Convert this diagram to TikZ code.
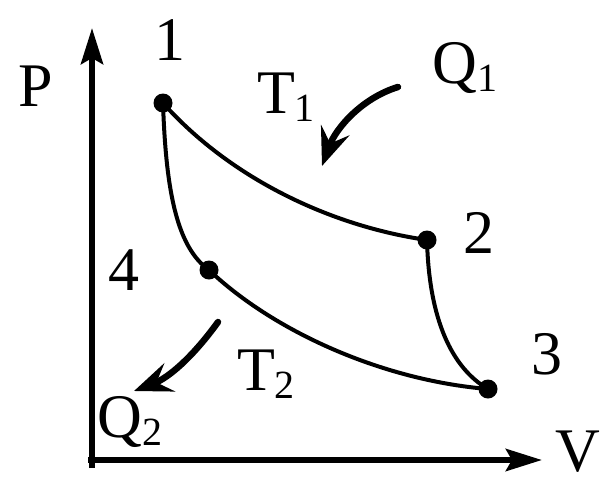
\documentclass[tikz,border=0pt]{standalone}
\usepackage{fontspec}
\setmainfont{Liberation Serif}
\usetikzlibrary{arrows.meta}
\newcommand{\lbsub}[1]{\raisebox{-0.28ex}{\fontsize{40}{40}\selectfont #1}}
\begin{document}
\begin{tikzpicture}[x=1pt,y=-1pt,
  lbl/.style={font=\fontsize{62}{62}\selectfont, inner sep=0pt},
  dotpt/.style={circle, fill=black, minimum size=19pt, inner sep=0pt},
  axis/.style={line width=6pt, -{Stealth[length=36pt,width=22pt,inset=6pt]}},
  cyc/.style={line width=4pt},
  heat/.style={line width=6.5pt, line cap=round, -{Stealth[length=38pt,width=30pt,inset=14pt]}}]
\useasboundingbox (0,0) rectangle (607,485);
% axes
\coordinate (O1) at (92,468);
\coordinate (Ptip) at (92,28);
\coordinate (O2) at (88,460);
\coordinate (Vtip) at (542,460);
\draw[axis] (O1) -- (Ptip);
\draw[axis] (O2) -- (Vtip);
% points
\node[dotpt] (p1) at (163,103) {};
\node[dotpt] (p2) at (427,240) {};
\node[dotpt] (p3) at (488,389) {};
\node[dotpt] (p4) at (209,270) {};
% cycle
\draw[cyc] (p1.center) .. controls (230,178) and (330,226) .. (p2.center);
\draw[cyc] (p1.center) .. controls (166,195) and (178,248) .. (p4.center);
\draw[cyc] (p2.center) .. controls (429,320) and (452,368) .. (p3.center);
\draw[cyc] (p4.center) .. controls (272,330) and (380,380) .. (p3.center);
% labels
\node[lbl] (l1) at (170,40) {1};
\node[lbl] (l2) at (479,233) {2};
\node[lbl] (l3) at (547,354) {3};
\node[lbl] (l4) at (124,270) {4};
\node[lbl] (lP) at (36,86) {P};
\node[lbl] (lV) at (578,452) {V};
\node[lbl] (lT1) at (286,97) {T\lbsub{1}};
\node[lbl] (lT2) at (266,374) {T\lbsub{2}};
\node[lbl] (lQ1) at (465,68) {Q\lbsub{1}};
\node[lbl] (lQ2) at (130,422) {Q\lbsub{2}};
% heat arrows
\coordinate (q1s) at (398,87);
\coordinate (q1e) at (322,166);
\coordinate (q2s) at (218,322);
\coordinate (q2e) at (134,391);
\draw[heat] (q1s) .. controls (362,98) and (336,128) .. (q1e);
\draw[heat] (q2s) .. controls (192,358) and (168,378) .. (q2e);
\end{tikzpicture}
\end{document}
